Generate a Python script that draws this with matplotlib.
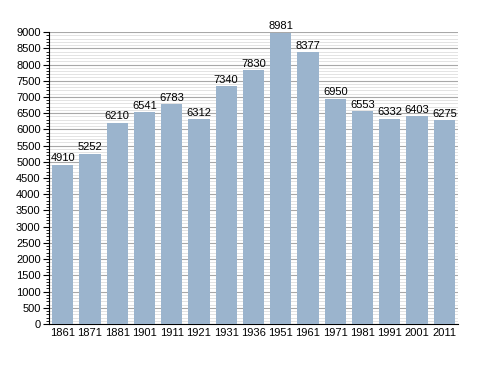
import matplotlib
matplotlib.use("Agg")
import matplotlib.pyplot as plt
from matplotlib.ticker import MultipleLocator

# -------------------- DATA --------------------
years = ['1861', '1871', '1881', '1901', '1911', '1921', '1931', '1936',
         '1951', '1961', '1971', '1981', '1991', '2001', '2011']
population = [4910, 5252, 6210, 6541, 6783, 6312, 7340, 7830,
              8981, 8377, 6950, 6553, 6332, 6403, 6275]

plt.rcParams['font.family'] = ['Liberation Sans', 'DejaVu Sans']

fig = plt.figure(figsize=(4.88, 3.73), dpi=100)
ax = fig.add_axes([0.1004, 0.1314, 0.838, 0.7826])

x = range(len(years))
ax.bar(x, population, width=0.78, color='#9bb4cd', zorder=3)

for i, v in zip(x, population):
    ax.text(i, v + 40, str(v), ha='center', va='bottom', fontsize=8, zorder=4)

ax.set_xlim(-0.5, len(years) - 0.5)
ax.set_ylim(0, 9000)
ax.set_xticks(list(x))
ax.set_xticklabels(years)
ax.yaxis.set_major_locator(MultipleLocator(500))
ax.yaxis.set_minor_locator(MultipleLocator(100))

ax.grid(axis='y', which='major', color='#a8a8a8', linewidth=0.8, zorder=1)
ax.grid(axis='y', which='minor', color='#dedede', linewidth=0.6, zorder=0)

ax.spines['top'].set_visible(False)
ax.spines['right'].set_visible(False)
ax.tick_params(axis='both', labelsize=8, length=4, width=0.8, pad=2)
ax.tick_params(axis='y', which='minor', length=2, width=0.6)
ax.tick_params(axis='x', length=0, pad=3)

fig.savefig('out.png', dpi=100)
